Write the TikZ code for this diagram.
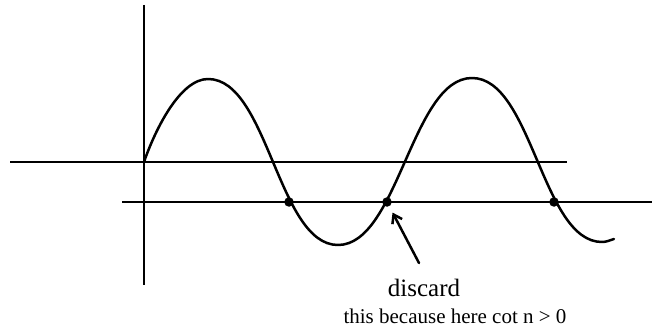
\documentclass[tikz,border=0pt]{standalone}
\usepackage{fontspec}
\setmainfont{Liberation Serif}
\usetikzlibrary{arrows.meta}

\begin{document}
\begin{tikzpicture}[x=1pt, y=-1pt, line join=round, line cap=round]
  \tikzset{
    axisline/.style={line width=2.5pt, line cap=butt},
    wave/.style={line width=2.5pt},
    dot/.style={circle, fill, inner sep=0pt, minimum size=9.5pt},
  }
  \useasboundingbox (0,0) rectangle (654,329);
  \def\ya{162} % axis height
  \def\yb{202} % lower line height
  \def\a{60}   % control offset at the extrema

  % Axes and the lower line
  \draw[axisline] (144,5) -- (144,285);
  \draw[axisline] (10,\ya) -- (567,\ya);
  \draw[axisline] (122,\yb) -- (652,\yb);

  % Extrema of the wave
  \coordinate (O) at (144,\ya);
  \coordinate (P1) at (208,79);
  \coordinate (T1) at (338,245);
  \coordinate (P2) at (472,78);
  \coordinate (T2) at (602,242);
  \coordinate (E) at (614,239);
  \draw[wave] (O) .. controls (155,130) and (180,79) .. (P1)
    .. controls +(\a,0) and +(-\a,0) .. (T1)
    .. controls +(\a,0) and +(-\a,0) .. (P2)
    .. controls +(\a,0) and +(-\a,0) .. (T2)
    .. controls +(5,0) and +(-4,1) .. (E);

  % Crossings with the lower line
  \node[dot] (d1) at (289,\yb) {};
  \node[dot] (d2) at (387,\yb) {};
  \node[dot] (d3) at (554,\yb) {};

  % Labels
  \node[font=\fontsize{25}{29}\selectfont, anchor=base] (discard) at (424,296) {discard};
  \node[font=\fontsize{21}{25}\selectfont, anchor=base] (reason) at (455,323) {this because here cot n > 0};
  \coordinate (tail) at (419,263);
  \draw[wave, -{Straight Barb[length=8pt, width=11pt]}, shorten >=7pt] (tail) -- (d2);
\end{tikzpicture}
\end{document}
